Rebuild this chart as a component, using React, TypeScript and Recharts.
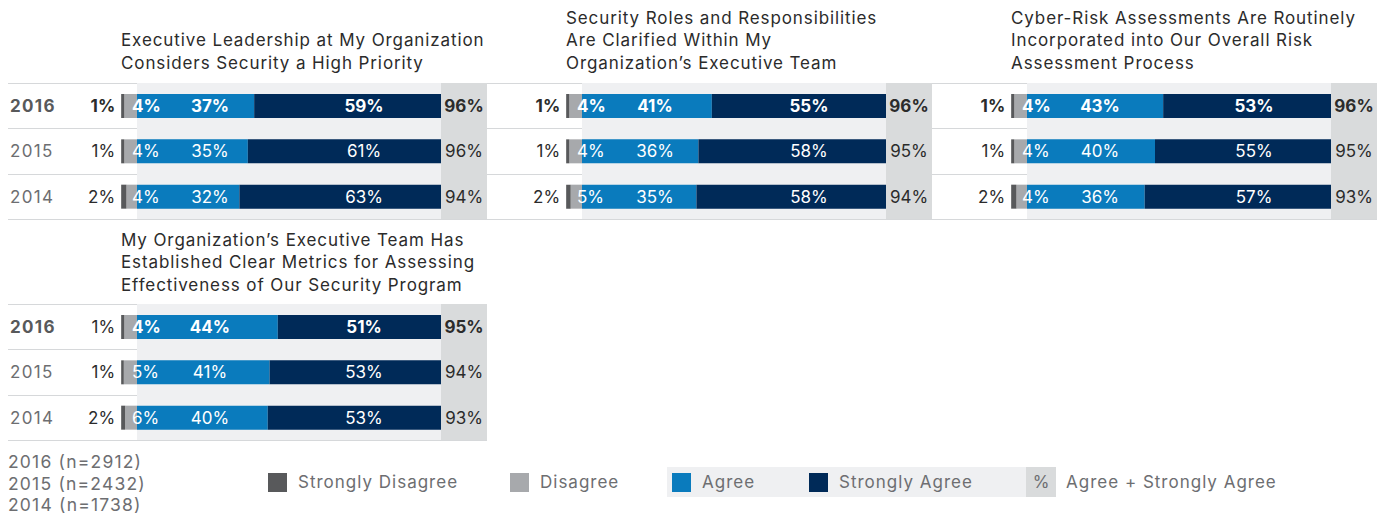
import React from 'react';
import {
  BarChart,
  Bar,
  XAxis,
  YAxis,
  CartesianGrid,
  ReferenceArea,
  LabelList,
} from 'recharts';

const years = ['2016', '2015', '2014'];

const titles = [
  ['Executive Leadership at My Organization', 'Considers Security a High Priority'],
  ['Security Roles and Responsibilities', 'Are Clarified Within My', 'Organization\u2019s Executive Team'],
  ['Cyber-Risk Assessments Are Routinely', 'Incorporated into Our Overall Risk', 'Assessment Process'],
  ['My Organization\u2019s Executive Team Has', 'Established Clear Metrics for Assessing', 'Effectiveness of Our Security Program'],
];

// one array per panel, rows in the order of `years`
const stronglyDisagree = [[1, 1, 2], [1, 1, 2], [1, 1, 2], [1, 1, 2]];
const disagree = [[4, 4, 4], [4, 4, 5], [4, 4, 4], [4, 5, 6]];
const agree = [[37, 35, 32], [41, 36, 35], [43, 40, 36], [44, 41, 40]];
const stronglyAgree = [[59, 61, 63], [55, 58, 58], [53, 55, 57], [51, 53, 53]];
const agreeTotal = [[96, 96, 94], [96, 95, 94], [96, 95, 93], [95, 94, 93]];

const sampleSizes = ['2016 (n=2912)', '2015 (n=2432)', '2014 (n=1738)'];

const COLORS = {
  sd: '#58595b',
  d: '#a7a9ac',
  a: '#0a7bbd',
  sa: '#002a58',
  bg: '#eff0f2',
  col: '#d9dbdc',
  grid: '#d6d8da',
  text: '#2b2b2b',
  muted: '#6d6e71',
};

const FONT = 'Inter, "Noto Sans", sans-serif';

// the source draws disagree side and agree side each at a fixed width
const LEFT_UNITS = 5;
const RIGHT_UNITS = 96;
const PX_PER_UNIT = 304 / RIGHT_UNITS;
const COL_PX = 46;

const buildRows = (p: number) =>
  years.map((year, i) => {
    const sd = stronglyDisagree[p][i];
    const d = disagree[p][i];
    const a = agree[p][i];
    const sa = stronglyAgree[p][i];
    return {
      year,
      sdW: -(sd / (sd + d)) * LEFT_UNITS,
      dW: -(d / (sd + d)) * LEFT_UNITS,
      aW: (a / (a + sa)) * RIGHT_UNITS,
      saW: (sa / (a + sa)) * RIGHT_UNITS,
    };
  });

interface PanelProps {
  p: number;
  left: number;
  width: number;
  top: number;
  zeroPx: number;
  showYears: boolean;
  boldSd: boolean;
}

const Panel = ({ p, left, width, top, zeroPx, showYears, boldSd }: PanelProps) => {
  const data = buildRows(p);
  const domain: [number, number] = [-zeroPx / PX_PER_UNIT, (width - zeroPx) / PX_PER_UNIT];

  const renderRowLabels = (props: any) => {
    const { x, y, height, index } = props;
    const cy = y + height / 2;
    const bold = index === 0;
    const fw = bold ? 700 : 400;
    const common = { fontFamily: FONT, fontSize: 17, dominantBaseline: 'central' as const };
    const rightEnd = x + RIGHT_UNITS * PX_PER_UNIT;
    return (
      <g>
        {showYears && (
          <text x={x - zeroPx + 2} y={cy} {...common} fontWeight={fw} fill={bold ? '#58595b' : COLORS.muted} letterSpacing={1.3}>
            {years[index]}
          </text>
        )}
        <text x={x - LEFT_UNITS * PX_PER_UNIT - 6} y={cy} {...common} textAnchor="end" fontWeight={bold && boldSd ? 700 : 400} fill={COLORS.text}>
          {stronglyDisagree[p][index]}%
        </text>
        <text x={x - 5} y={cy} {...common} fontWeight={fw} fill="#fff">
          {disagree[p][index]}%
        </text>
        <text x={x + 73} y={cy} {...common} textAnchor="middle" fontWeight={fw} fill="#fff">
          {agree[p][index]}%
        </text>
        <text x={x + 227} y={cy} {...common} textAnchor="middle" fontWeight={fw} fill="#fff">
          {stronglyAgree[p][index]}%
        </text>
        <text x={rightEnd + COL_PX / 2} y={cy} {...common} textAnchor="middle" fontWeight={fw} fill={COLORS.text}>
          {agreeTotal[p][index]}%
        </text>
      </g>
    );
  };

  return (
    <div style={{ position: 'absolute', left, top }}>
      <BarChart
        width={width}
        height={138}
        data={data}
        layout="vertical"
        stackOffset="sign"
        margin={{ top: 0, right: 0, bottom: 2, left: 0 }}
        barCategoryGap={0}
      >
        <XAxis type="number" domain={domain} hide allowDataOverflow />
        <YAxis type="category" dataKey="year" hide />
        <ReferenceArea x1={0} x2={RIGHT_UNITS} fill={COLORS.bg} fillOpacity={1} stroke="none" />
        <ReferenceArea x1={RIGHT_UNITS} x2={domain[1]} fill={COLORS.col} fillOpacity={1} stroke="none" />
        <CartesianGrid
          vertical={false}
          stroke={COLORS.grid}
          horizontalCoordinatesGenerator={({ offset }: any) =>
            [0, 1, 2, 3].map((i) => Math.round(offset.top + (i * offset.height) / 3) + 0.5)
          }
        />
        <Bar dataKey="dW" stackId="s" fill={COLORS.d} barSize={24} isAnimationActive={false} />
        <Bar dataKey="sdW" stackId="s" fill={COLORS.sd} barSize={24} isAnimationActive={false} />
        <Bar dataKey="aW" stackId="s" fill={COLORS.a} barSize={24} isAnimationActive={false}>
          <LabelList dataKey="aW" content={renderRowLabels} />
        </Bar>
        <Bar dataKey="saW" stackId="s" fill={COLORS.sa} barSize={24} isAnimationActive={false} />
      </BarChart>
    </div>
  );
};

const Title = ({ lines, left, top }: { lines: string[]; left: number; top: number }) => (
  <div
    style={{
      position: 'absolute',
      left,
      top,
      fontFamily: FONT,
      fontSize: 17,
      letterSpacing: 0.9,
      lineHeight: '22.5px',
      color: COLORS.text,
      whiteSpace: 'nowrap',
    }}
  >
    {lines.map((l) => (
      <div key={l}>{l}</div>
    ))}
  </div>
);

const Swatch = ({ left, color }: { left: number; color: string }) => (
  <div style={{ position: 'absolute', left, top: 473, width: 19, height: 19, background: color }} />
);

const LegendText = ({ left, children }: { left: number; children: React.ReactNode }) => (
  <div
    style={{
      position: 'absolute',
      left,
      top: 471,
      fontFamily: FONT,
      fontSize: 17,
      letterSpacing: 1,
      lineHeight: '22px',
      color: COLORS.muted,
      whiteSpace: 'nowrap',
    }}
  >
    {children}
  </div>
);

export default function App() {
  return (
    <div style={{ position: 'absolute', left: 0, top: 0, width: 1388, height: 515, background: '#fff', overflow: 'hidden' }}>
      <Title lines={titles[0]} left={121} top={29} />
      <Title lines={titles[1]} left={566} top={6.5} />
      <Title lines={titles[2]} left={1011} top={6.5} />
      <Title lines={titles[3]} left={121} top={228.5} />

      <Panel p={0} left={8} width={479} top={83} zeroPx={129} showYears boldSd />
      <Panel p={1} left={487} width={445} top={83} zeroPx={95} showYears={false} boldSd />
      <Panel p={2} left={932} width={445} top={83} zeroPx={95} showYears={false} boldSd />
      <Panel p={3} left={8} width={479} top={304} zeroPx={129} showYears boldSd={false} />

      <div
        style={{
          position: 'absolute',
          left: 8,
          top: 451,
          fontFamily: FONT,
          fontSize: 17.5,
          letterSpacing: 1.2,
          lineHeight: '21.5px',
          color: COLORS.muted,
          whiteSpace: 'nowrap',
        }}
      >
        {sampleSizes.map((s) => (
          <div key={s}>{s}</div>
        ))}
      </div>

      <div style={{ position: 'absolute', left: 667, top: 467, width: 359, height: 30, background: COLORS.bg }} />
      <div
        style={{
          position: 'absolute',
          left: 1026,
          top: 467,
          width: 30,
          height: 30,
          background: COLORS.col,
          fontFamily: FONT,
          fontSize: 17,
          lineHeight: '30px',
          textAlign: 'center',
          color: COLORS.muted,
        }}
      >
        %
      </div>
      <Swatch left={268} color={COLORS.sd} />
      <LegendText left={298}>Strongly Disagree</LegendText>
      <Swatch left={510} color={COLORS.d} />
      <LegendText left={540}>Disagree</LegendText>
      <Swatch left={672} color={COLORS.a} />
      <LegendText left={702}>Agree</LegendText>
      <Swatch left={809} color={COLORS.sa} />
      <LegendText left={839}>Strongly Agree</LegendText>
      <LegendText left={1066}>Agree + Strongly Agree</LegendText>
    </div>
  );
}
